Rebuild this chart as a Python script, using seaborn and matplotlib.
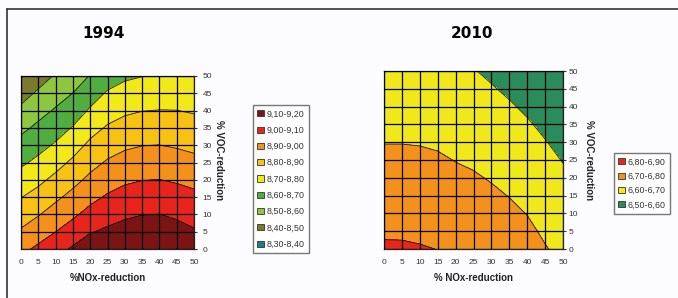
import numpy as np
import pandas as pd
import seaborn as sns
import matplotlib.pyplot as plt
from matplotlib.patches import Patch
from matplotlib.lines import Line2D

# axes values (% reduction)
nox = [0, 5, 10, 15, 20, 25, 30, 35, 40, 45, 50]
voc = [0, 5, 10, 15, 20, 25, 30, 35, 40, 45, 50]

# 1994 field, rows = VOC 0..50, columns = NOx 0..50
z_1994 = [
    [8.975, 9.019, 9.062, 9.113, 9.156, 9.168, 9.185, 9.198, 9.198, 9.181, 9.152],
    [8.912, 8.956, 8.999, 9.047, 9.094, 9.116, 9.135, 9.148, 9.150, 9.133, 9.109],
    [8.854, 8.894, 8.941, 8.983, 9.031, 9.063, 9.085, 9.098, 9.101, 9.086, 9.065],
    [8.797, 8.835, 8.882, 8.928, 8.974, 9.011, 9.035, 9.048, 9.050, 9.038, 9.022],
    [8.740, 8.778, 8.824, 8.872, 8.921, 8.960, 8.985, 8.998, 9.001, 8.990, 8.975],
    [8.684, 8.722, 8.767, 8.817, 8.870, 8.910, 8.935, 8.948, 8.950, 8.940, 8.925],
    [8.632, 8.670, 8.711, 8.761, 8.820, 8.860, 8.885, 8.898, 8.901, 8.891, 8.878],
    [8.578, 8.620, 8.660, 8.706, 8.767, 8.810, 8.835, 8.848, 8.851, 8.845, 8.835],
    [8.522, 8.568, 8.610, 8.653, 8.711, 8.760, 8.785, 8.798, 8.802, 8.801, 8.792],
    [8.460, 8.516, 8.560, 8.601, 8.658, 8.710, 8.735, 8.748, 8.756, 8.757, 8.750],
    [8.393, 8.453, 8.510, 8.550, 8.605, 8.656, 8.685, 8.698, 8.709, 8.713, 8.708],
]

# 2010 field
z_2010 = [
    [6.810, 6.809, 6.805, 6.799, 6.780, 6.776, 6.766, 6.753, 6.735, 6.705, 6.680],
    [6.791, 6.791, 6.787, 6.782, 6.764, 6.759, 6.748, 6.735, 6.716, 6.688, 6.663],
    [6.773, 6.772, 6.769, 6.764, 6.748, 6.741, 6.730, 6.716, 6.698, 6.671, 6.647],
    [6.754, 6.754, 6.751, 6.745, 6.731, 6.724, 6.712, 6.698, 6.680, 6.654, 6.630],
    [6.735, 6.735, 6.733, 6.727, 6.715, 6.707, 6.695, 6.680, 6.662, 6.637, 6.613],
    [6.717, 6.717, 6.715, 6.709, 6.698, 6.690, 6.677, 6.662, 6.644, 6.620, 6.597],
    [6.698, 6.698, 6.696, 6.691, 6.682, 6.672, 6.659, 6.644, 6.625, 6.603, 6.580],
    [6.680, 6.680, 6.678, 6.673, 6.666, 6.655, 6.641, 6.625, 6.607, 6.586, 6.563],
    [6.661, 6.661, 6.660, 6.655, 6.649, 6.638, 6.623, 6.607, 6.589, 6.569, 6.547],
    [6.642, 6.643, 6.642, 6.636, 6.633, 6.621, 6.605, 6.589, 6.571, 6.553, 6.530],
    [6.624, 6.624, 6.624, 6.618, 6.616, 6.603, 6.588, 6.571, 6.553, 6.536, 6.513],
]

levels_1994 = [8.3, 8.4, 8.5, 8.6, 8.7, 8.8, 8.9, 9.0, 9.1, 9.2]
labels_1994 = ["8,30-8,40", "8,40-8,50", "8,50-8,60", "8,60-8,70", "8,70-8,80",
               "8,80-8,90", "8,90-9,00", "9,00-9,10", "9,10-9,20"]
colors_1994 = ["#17808a", "#7b7a2c", "#8dc63f", "#4fae3f", "#f2e81a",
               "#f7c213", "#f3911c", "#e9241d", "#7c1414"]

levels_2010 = [6.5, 6.6, 6.7, 6.8, 6.9]
labels_2010 = ["6,50-6,60", "6,60-6,70", "6,70-6,80", "6,80-6,90"]
colors_2010 = ["#2a8c5a", "#f0e81a", "#f3911c", "#e9241d"]

sns.set_style("white")
plt.rcParams['font.family'] = ['Liberation Sans', 'DejaVu Sans']

W, H = 678, 298
fig = plt.figure(figsize=(W / 100, H / 100), dpi=100, facecolor="#fcfcfe")


def px(x, y):
    return x / W, 1 - y / H


def panel(rect, z, levels, colors, ypad):
    l, t, r, b = rect
    ax = fig.add_axes([l / W, 1 - b / H, (r - l) / W, (b - t) / H])
    df = pd.DataFrame(z, index=voc, columns=nox)
    X, Y = np.meshgrid(df.columns.values, df.index.values)
    ax.contourf(X, Y, df.values, levels=levels, colors=colors)
    ax.contour(X, Y, df.values, levels=levels[1:-1], colors="#1a1a1a",
               linewidths=0.6)
    ax.set_xlim(0, 50)
    ax.set_ylim(0, 50)
    ax.set_xticks(nox)
    ax.set_yticks(voc)
    ax.yaxis.tick_right()
    ax.grid(True, color="black", lw=0.9)
    ax.set_axisbelow(False)
    for s in ax.spines.values():
        s.set_color("#222222")
        s.set_linewidth(0.9)
    ax.tick_params(axis="x", labelsize=6, colors="#333333", length=2, pad=5)
    ax.tick_params(axis="y", labelsize=6, colors="#333333", length=2, pad=ypad)
    return ax


def add_legend(labels, colors, x, y, spacing):
    handles = [Patch(facecolor=c, edgecolor="#333333", lw=0.6)
               for c in colors][::-1]
    leg = fig.legend(handles, labels[::-1], loc="upper left",
                     bbox_to_anchor=px(x, y), fontsize=6.4, frameon=True,
                     fancybox=False, handlelength=0.7, handleheight=0.7,
                     handletextpad=0.3, labelspacing=spacing, borderpad=0.5,
                     borderaxespad=0)
    leg.get_frame().set_edgecolor("#555555")
    leg.get_frame().set_linewidth(1.0)
    for t in leg.get_texts():
        t.set_color("#333333")


panel((21, 76, 194, 249), z_1994, levels_1994, colors_1994, 4)
panel((384, 71, 563, 249), z_2010, levels_2010, colors_2010, 2)

add_legend(labels_1994, colors_1994, 253, 105, 0.82)
add_legend(labels_2010, colors_2010, 614, 153, 0.6)

# titles and axis labels
fig.text(*px(104, 34), "1994", ha="center", va="center", fontsize=11,
         fontweight="bold", family="DejaVu Sans", color="black")
fig.text(*px(472, 34), "2010", ha="center", va="center", fontsize=11,
         fontweight="bold", family="DejaVu Sans", color="black")
fig.text(*px(108, 278), "%NOx-reduction", ha="center", va="center",
         fontsize=7, fontweight="bold", color="#222222")
fig.text(*px(474, 278), "% NOx-reduction", ha="center", va="center",
         fontsize=7, fontweight="bold", color="#222222")
fig.text(*px(219, 160), "% VOC-reduction", ha="center", va="center",
         fontsize=7, fontweight="bold", color="#222222", rotation=270)
fig.text(*px(589, 160), "% VOC-reduction", ha="center", va="center",
         fontsize=7, fontweight="bold", color="#222222", rotation=270)

# outer frame (cropped box)
fx, fy = px(7, 9)
fig.add_artist(Line2D([fx, fx], [0, fy], transform=fig.transFigure,
                      color="#333333", lw=1.2))
fig.add_artist(Line2D([fx, 1], [fy, fy], transform=fig.transFigure,
                      color="#333333", lw=1.2))

fig.savefig("out.png", dpi=100, facecolor=fig.get_facecolor())
